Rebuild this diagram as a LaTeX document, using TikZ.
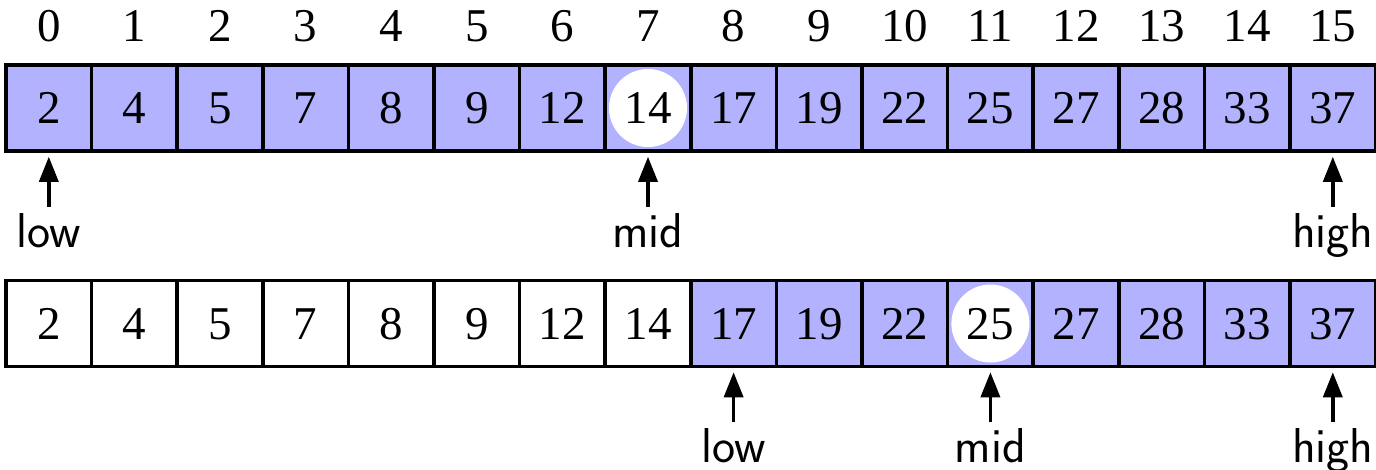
\documentclass[tikz,border=0pt]{standalone}
\usepackage{fontspec}
\setmainfont{Liberation Serif}
\usetikzlibrary{arrows.meta}
\definecolor{cellblue}{RGB}{178,178,255}
\tikzset{
  cell/.style={draw=black, line width=3.5pt, minimum width=85.6pt, minimum height=86pt,
    inner sep=0pt, text height=31pt, text depth=0pt,
    font=\fontsize{47}{50}\selectfont},
  hot/.style={fill=cellblue},
  cold/.style={fill=white},
  hotmid/.style={fill=cellblue,
    path picture={\fill[white] (path picture bounding box.center) circle (39pt);}},
  idx/.style={anchor=base, inner sep=0pt, font=\fontsize{47}{50}\selectfont},
  ptrlabel/.style={anchor=base, inner sep=6pt, font=\sffamily\fontsize{49}{52}\selectfont},
  ptr/.style={line width=3.5pt, -{Triangle[length=25pt,width=19pt]}, shorten >=4pt},
}
\begin{document}
\begin{tikzpicture}[x=1pt,y=1pt]
\useasboundingbox (0,0) rectangle (1376,-469);

% index row
\foreach \i in {0,...,15} {
  \node[idx] (i\i) at ({6+85.6*(\i+0.5)}, -41) {\i};
}

% first array: whole range active, probe at index 7
\foreach \v/\s [count=\i from 0] in {2/hot,4/hot,5/hot,7/hot,8/hot,9/hot,12/hot,14/hotmid,
    17/hot,19/hot,22/hot,25/hot,27/hot,28/hot,33/hot,37/hot} {
  \node[cell,\s] (t\i) at ({6+85.6*(\i+0.5)}, -108) {\v};
}

% second array: lower half discarded, probe at index 11
\foreach \v/\s [count=\i from 0] in {2/cold,4/cold,5/cold,7/cold,8/cold,9/cold,12/cold,14/cold,
    17/hot,19/hot,22/hot,25/hotmid,27/hot,28/hot,33/hot,37/hot} {
  \node[cell,\s] (b\i) at ({6+85.6*(\i+0.5)}, -323.5) {\v};
}

% pointers for the first array
\node[ptrlabel] (tlow)  at (t0.center  |- 0,-247) {low};
\node[ptrlabel] (tmid)  at (t7.center  |- 0,-247) {mid};
\node[ptrlabel] (thigh) at (t15.center |- 0,-247) {high};
\draw[ptr] (tlow.north)  -- (t0.south);
\draw[ptr] (tmid.north)  -- (t7.south);
\draw[ptr] (thigh.north) -- (t15.south);

% pointers for the second array
\node[ptrlabel] (blow)  at (b8.center  |- 0,-462) {low};
\node[ptrlabel] (bmid)  at (b11.center |- 0,-462) {mid};
\node[ptrlabel] (bhigh) at (b15.center |- 0,-462) {high};
\draw[ptr] (blow.north)  -- (b8.south);
\draw[ptr] (bmid.north)  -- (b11.south);
\draw[ptr] (bhigh.north) -- (b15.south);
\end{tikzpicture}
\end{document}
